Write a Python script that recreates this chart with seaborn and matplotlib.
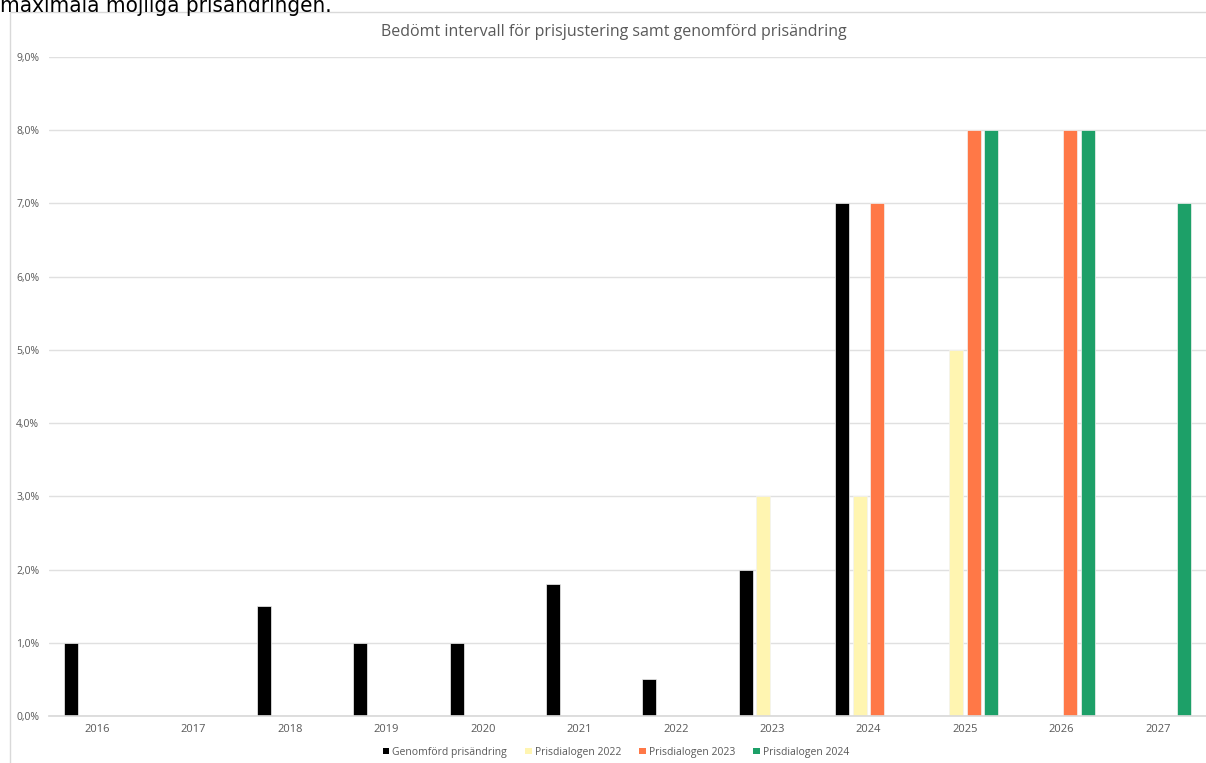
import matplotlib
matplotlib.use("Agg")
import matplotlib.pyplot as plt
from matplotlib.patches import Rectangle, Patch
from matplotlib.ticker import FuncFormatter, MultipleLocator
import seaborn as sns
import pandas as pd
import numpy as np

years = ["2016", "2017", "2018", "2019", "2020", "2021", "2022", "2023", "2024", "2025", "2026", "2027"]
series_names = ["Genomförd prisändring", "Prisdialogen 2022", "Prisdialogen 2023", "Prisdialogen 2024"]
genomford = [1.0, None, 1.5, 1.0, 1.0, 1.8, 0.5, 2.0, 7.0, None, None, None]
prisdialog_2022 = [None, None, None, None, None, None, None, 3.0, 3.0, 5.0, None, None]
prisdialog_2023 = [None, None, None, None, None, None, None, None, 7.0, 8.0, 8.0, None]
prisdialog_2024 = [None, None, None, None, None, None, None, None, None, 8.0, 8.0, 7.0]
colors = ["#000000", "#FFF5B1", "#FF7847", "#1DA068"]

rows = []
for name, vals in zip(series_names, [genomford, prisdialog_2022, prisdialog_2023, prisdialog_2024]):
    for y, v in zip(years, vals):
        if v is not None:
            rows.append({"År": y, "Serie": name, "Värde": v})
df = pd.DataFrame(rows)

sns.set_theme(style="white")
plt.rcParams["font.family"] = ["Open Sans", "DejaVu Sans"]

fig = plt.figure(figsize=(12.06, 7.63), dpi=100)
ax = fig.add_axes([49 / 1206, 1 - 716 / 763, 1 - 49 / 1206, (716 - 57) / 763])

sns.barplot(data=df, x="År", y="Värde", hue="Serie", order=years, hue_order=series_names,
            palette=colors, saturation=1, width=0.726, gap=0.2, ax=ax, edgecolor="#F2F2F2",
            linewidth=0.5, legend=False)

ax.set_ylim(0, 9)
ax.set_xlim(-0.5, len(years) - 0.5)
ax.yaxis.set_major_locator(MultipleLocator(1))
ax.yaxis.set_major_formatter(FuncFormatter(lambda v, p: f"{v:.1f}%".replace(".", ",")))
ax.grid(axis="y", color="#E0E0E0", linewidth=1)
ax.set_axisbelow(True)
for s in ["top", "right", "left"]:
    ax.spines[s].set_visible(False)
ax.spines["bottom"].set_color("#D9D9D9")
ax.tick_params(axis="y", length=0, labelsize=7.5, labelcolor="#595959", pad=7)
ax.tick_params(axis="x", length=0, labelsize=8, labelcolor="#595959", pad=6)
ax.set_xlabel("")
ax.set_ylabel("")

# chart frame
fig.patches.append(Rectangle((10 / 1206, -0.01), 1.2, 1 - 12 / 763 + 0.01, transform=fig.transFigure,
                             fill=False, edgecolor="#D9D9D9", linewidth=1, zorder=0))

fig.text(614 / 1206, 1 - 32 / 763, "Bedömt intervall för prisjustering samt genomförd prisändring",
         ha="center", va="center", fontsize=11.5, color="#595959")

fig.text(0.0, 1 - 12 / 763, "maximala möjliga prisändringen.", ha="left", va="baseline",
         fontsize=16, color="#000000", family=["DejaVu Sans"], fontstretch="condensed")

handles = [Patch(facecolor=c, edgecolor="none") for c in colors]
fig.legend(handles, series_names, loc="center", bbox_to_anchor=(616 / 1206, 1 - 752 / 763), ncol=4,
           frameon=False, fontsize=7.5, handlelength=0.6, handleheight=0.6, handletextpad=0.3,
           columnspacing=1.75, labelcolor="#595959")

fig.savefig("out.png", dpi=100)
